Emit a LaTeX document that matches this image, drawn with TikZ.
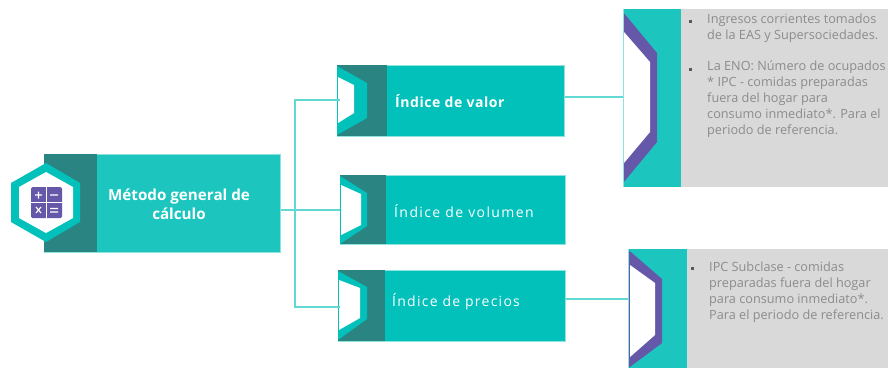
\documentclass[tikz,border=0pt]{standalone}
\usepackage{fontspec}
\setmainfont{Open Sans}
\newfontfamily\idxa[LetterSpace=4]{Open Sans}
\newfontfamily\idxb[LetterSpace=10]{Open Sans}
\newfontfamily\idxc[LetterSpace=9]{Open Sans}
\definecolor{mainteal}{HTML}{1CC6BF}
\definecolor{idxteal}{HTML}{02C1BB}
\definecolor{darkteal}{HTML}{2A8481}
\definecolor{purp}{HTML}{6558A8}
\definecolor{linet}{HTML}{62D8D2}
\definecolor{greyb}{HTML}{D9D9D9}
\definecolor{greyt}{HTML}{8C8C8C}
\definecolor{edget}{HTML}{8FE3DE}
\tikzset{
  x=1pt,y=-1pt,
  boxn/.style={draw=edget,line width=.6pt,fill=#1,inner sep=0pt,anchor=north west},
  conn/.style={draw=linet,line width=2pt},
  idxlabel/.style={text=white,inner sep=0pt,anchor=west,font=\fontsize{14}{16}\selectfont},
  detail/.style={text=greyt,inner sep=0pt,anchor=north west,align=left,font=\fontsize{12.7}{16}\selectfont},
  bul/.style={fill=black!65,inner sep=0pt,minimum size=3pt},
}
\begin{document}
\begin{tikzpicture}
\useasboundingbox (0,0) rectangle (888,368);
% main block
\node[boxn=mainteal,minimum width=236pt,minimum height=98pt] (main) at (44,154) {};
\fill[darkteal] (44,154) rectangle (97,252);
\fill[idxteal] (46,163)--(80,183)--(80,222)--(46,242)--(11,222)--(11,183)--cycle;
\fill[white] (46,172)--(73,187)--(73,218)--(46,233)--(19,218)--(19,187)--cycle;
\fill[purp,rounded corners=1.5pt] (31,187) rectangle (62,218);
\draw[white,line width=1pt] (46.5,187)--(46.5,218) (31,202.5)--(62,202.5);
\draw[white,line width=1.1pt] (35,195)--(42,195) (38.5,191.5)--(38.5,198.5) (50,195)--(58,195)
  (36,207)--(41,213) (41,207)--(36,213) (50,208.5)--(58,208.5) (50,212)--(58,212);
\node[text=white,align=center,inner sep=0pt,font=\bfseries\fontsize{15.2}{19}\selectfont] (maintxt) at (179,204) {Método general de\\cálculo};
% index blocks
\node[boxn=idxteal,minimum width=227pt,minimum height=71pt] (v1) at (337,65) {};
\fill[darkteal] (337,65) rectangle (387,136);
\fill[idxteal] (337,66)--(367,83)--(367,118)--(337,135)--cycle;
\fill[white] (338,77)--(354,85)--(354,113)--(338,123)--cycle;
\node[idxlabel] (v1t) at (395,101) {\idxa\bfseries Índice de valor};
\node[boxn=idxteal,minimum width=225pt,minimum height=69pt] (v2) at (340,175) {};
\fill[darkteal] (340,175) rectangle (386,244);
\fill[idxteal] (340,176)--(367,193)--(367,226)--(340,244)--cycle;
\fill[white] (341,185)--(361,194)--(361,225)--(341,235)--cycle;
\node[idxlabel] (v2t) at (394,211) {\idxb Índice de volumen};
\node[boxn=idxteal,minimum width=227pt,minimum height=70.5pt] (v3) at (338,270) {};
\fill[darkteal] (338,270) rectangle (385,340.5);
\fill[idxteal] (338,271)--(367,287)--(367,319)--(338,340)--cycle;
\fill[white] (339,280)--(360,288)--(360,318)--(339,330)--cycle;
\node[idxlabel] (v3t) at (392,302) {\idxc Índice de precios};
% detail blocks
\node[boxn=mainteal,draw=none,minimum width=58pt,minimum height=178pt] (d1) at (623,9) {};
\fill[greyb] (681,9) rectangle (888,187);
\fill[purp] (623,12)--(657,53)--(657,142)--(623,183)--cycle;
\fill[white] (624,32)--(650,62)--(650,132)--(624,163)--cycle;
\draw[edget,line width=.8pt] (623.5,9)--(623.5,187);
\node[bul] (b1) at (690,21) {};
\node[detail] (d1a) at (707,14) {Ingresos corrientes tomados\\de la EAS y Supersociedades.};
\node[bul] (b2) at (690,69) {};
\node[detail] (d1b) at (707,61) {La ENO: Número de ocupados\\* IPC - comidas preparadas\\fuera del hogar para\\consumo inmediato*. Para el\\periodo de referencia.};
\node[boxn=mainteal,draw=none,minimum width=59pt,minimum height=119pt] (d2) at (628,249) {};
\fill[greyb] (687,249) rectangle (888,368);
\fill[purp] (628.5,250)--(662,279)--(662,343)--(628.5,368)--cycle;
\fill[white] (630,265)--(655,283)--(655,335)--(630,357)--cycle;
\draw[edget,line width=.8pt] (628.5,249)--(628.5,368);
\node[bul] (b3) at (692.5,268) {};
\node[detail] (d2a) at (709,262) {IPC Subclase - comidas\\preparadas fuera del hogar\\para consumo inmediato*.\\Para el periodo de referencia.};
% connectors
\coordinate (trunk) at (295,209.5);
\coordinate (e1) at (340,100);
\coordinate (e2) at (340,209.5);
\coordinate (e3) at (340,307);
\draw[conn] (main.east |- trunk) -- (trunk) -- (e2);
\draw[conn] (e1) -| (trunk) |- (e3);
\draw[conn] (v1.east |- 0,96.5) -- (d1.west |- 0,96.5);
\draw[conn] (v3.east |- 0,299) -- (d2.west |- 0,299);
\end{tikzpicture}
\end{document}
